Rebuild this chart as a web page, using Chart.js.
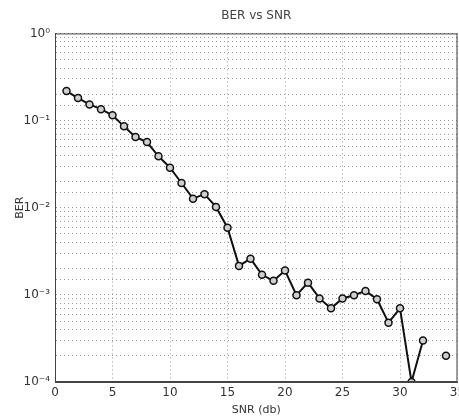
<!DOCTYPE html>
<html><head><meta charset="utf-8">
<script src="https://cdn.jsdelivr.net/npm/chart.js@4"></script>
<style>html,body{margin:0;padding:0;background:#fff;overflow:hidden}#wrap{width:463px;height:419px}</style>
</head><body><div id="wrap"><canvas id="c"></canvas></div>
<script>
const snr = [1,2,3,4,5,6,7,8,9,10,11,12,13,14,15,16,17,18,19,20,21,22,23,24,25,26,27,28,29,30,31,32,33,34];
const ber = [0.218,0.181,0.153,0.135,0.115,0.0858,0.0647,0.0567,0.0389,0.0288,0.0192,0.0127,0.0143,0.0102,0.0059,0.00215,0.0026,0.0017,0.00145,0.0019,0.00099,0.00138,0.00091,0.0007,0.00091,0.00099,0.00111,0.00089,0.00048,0.0007,0.0001,0.0003,null,0.0002];
const yTicks = [1e-4,1e-3,1e-2,1e-1,1];
const yLabels = ['10\u207B\u2074','10\u207B\u00B3','10\u207B\u00B2','10\u207B\u00B9','10\u2070'];
const xTickStep = 5;

const boxPlugin = {
  id:'box',
  afterDraw(chart){
    const {ctx, chartArea:a} = chart;
    ctx.save();
    ctx.strokeStyle='#444'; ctx.lineWidth=1;
    ctx.strokeRect(a.left+0.5,a.top+0.5,a.right-a.left-1,a.bottom-a.top-1);
    ctx.restore();
  }
};

new Chart(document.getElementById('c'),{
  type:'line',
  data:{datasets:[{
    data: snr.map((x,i)=>({x, y: ber[i]})),
    borderColor:'#111', borderWidth:2,
    pointRadius:3.5, pointBorderWidth:1.5,
    pointBorderColor:'#111', pointBackgroundColor:'#cfcfcf',
    spanGaps:false, tension:0
  }]},
  options:{
    responsive:true, maintainAspectRatio:false, animation:false,
    layout:{padding:{left:4,right:0,top:0,bottom:2}},
    plugins:{
      legend:{display:false}, tooltip:{enabled:false},
      title:{display:true,fullSize:false,text:'BER vs SNR',color:'#444',font:{family:'DejaVu Sans',size:12,weight:'normal'},padding:{top:9,bottom:10}}
    },
    scales:{
      x:{type:'linear',min:0,max:35,
        ticks:{stepSize:xTickStep,color:'#333',font:{family:'DejaVu Sans',size:12},padding:4,maxRotation:0},
        grid:{color:'#9a9a9a',drawTicks:false,lineWidth:1},
        border:{color:'#444',dash:[1,3]},
        title:{display:true,text:'SNR (db)',color:'#333',font:{family:'DejaVu Sans',size:11},padding:{top:2,bottom:0}},
        afterFit(s){s.height=35;s.paddingLeft=0;s.paddingRight=0;}
      },
      y:{type:'logarithmic',min:1e-4,max:1,
        ticks:{autoSkip:false,color:'#333',font:{family:'DejaVu Sans',size:12},padding:5,
          callback(v){const i=yTicks.findIndex(t=>Math.abs(Math.log10(t)-Math.log10(v))<1e-6);return i>=0?yLabels[i]:'';}},
        grid:{color:'#9a9a9a',drawTicks:false,lineWidth:1},
        border:{color:'#444',dash:[1,3]},
        title:{display:true,text:'BER',color:'#333',font:{family:'DejaVu Sans',size:11},padding:{top:10,bottom:4}},
        afterFit(s){s.width=51;s.paddingTop=0;s.paddingBottom=0;}
      }
    }
  },
  plugins:[boxPlugin]
});
</script></body></html>
